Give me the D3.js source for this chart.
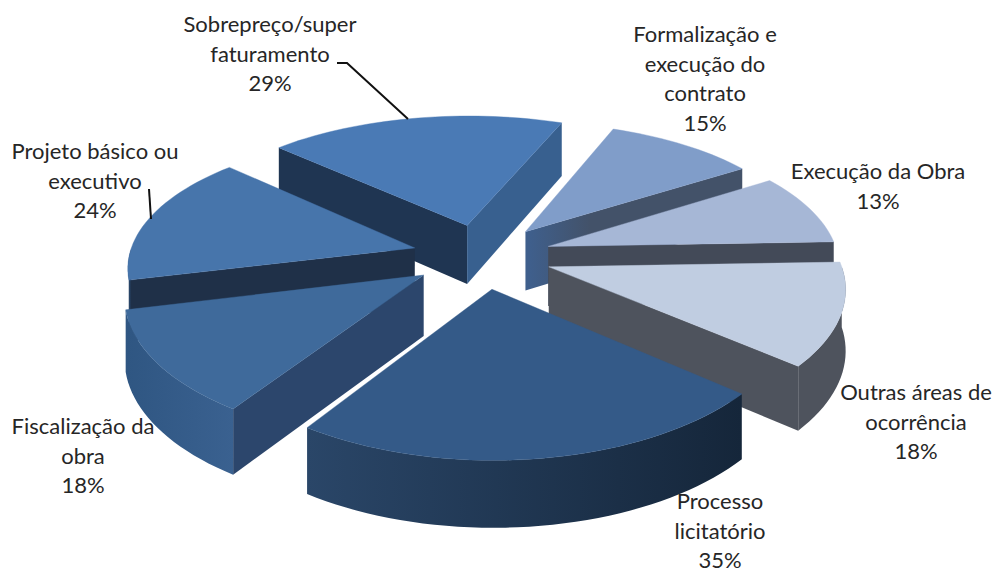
<!DOCTYPE html>
<html lang="pt">
<head>
<meta charset="utf-8">
<style>html,body{margin:0;padding:0;background:#fff}svg{display:block}</style>
<script src="https://cdn.jsdelivr.net/npm/d3@7/dist/d3.min.js"></script>
</head>
<body>
<svg id="c" width="993" height="572"></svg>
<script>
const categories = ["Sobrepreço/super faturamento","Formalização e execução do contrato","Execução da Obra","Outras áreas de ocorrência","Processo licitatório","Fiscalização da obra","Projeto básico ou executivo"];
const values = [29,15,13,18,35,18,24];
const percentLabels = ["29%","15%","13%","18%","35%","18%","24%"];
const labelLines = [["Sobrepreço/super","faturamento","29%"],["Formalização e","execução do","contrato","15%"],["Execução da Obra","13%"],["Outras áreas de","ocorrência","18%"],["Processo","licitatório","35%"],["Fiscalização da","obra","18%"],["Projeto básico ou","executivo","24%"]];
const labelX = [270,705,878,916,720,83,95];
const labelFirstBaseline = [32,42,179,400,509,434,159];
const topColors = ["#4a7ab5","#809dc9","#a6b7d6","#c0cde1","#345a88","#3f6a9b","#4775ab"];
const wallColors = ["#1f3552","#435269","#434a58","#4e535d","#15263a","#2c466c","#1f3048"];
const endWallLeft = ["#38608f","#3f5f8c","#434a58","#4e535d","#15263a","#2c466c","#1f3048"];
const endWallRight = ["#38608f","#435269","#434a58","#4e535d","#15263a","#2c466c","#1f3048"];
const outerLeft = ["#38608f","#3f5f8c","#434a58","#4e535d","#2a4668","#2f5682","#2f5682"];
const outerRight = ["#38608f","#435269","#434a58","#4e535d","#15263a","#3a6190","#1f3048"];
const radiusFactor = [1,0.985,1,1,1,1,0.985];

const W=993,H=572, cx=482, cy=256, R=290, explode=70, sq=0.463, px=0.13, py=0.15, depth=60;
const rad=d=>d*Math.PI/180;
const svg=d3.select("#c");
const defs=svg.append("defs");
const arcs=d3.pie().sort(null).startAngle(rad(-47)).endAngle(rad(313))(values);

function proj(a,r,mid,z){
  const X=r*Math.sin(a)+explode*Math.sin(mid);
  const V=-r*Math.cos(a)-explode*Math.cos(mid);
  const v=V/R;
  const sx=1/(1-px*v), sy=1/(1-py*v), sz=1+0.1*v;
  return [cx+X*sx, cy+V*sq*sy+z*sz];
}
const line=d3.line();
function sampled(a0,a1){const n=Math.max(2,Math.ceil((a1-a0)/rad(2)));return d3.range(n+1).map(i=>a0+(a1-a0)*i/n);}
function gradient(id,c0,c1,stop0){
  const grad=defs.append("linearGradient").attr("id",id).attr("x1","0").attr("x2","1").attr("y1","0").attr("y2","0");
  grad.append("stop").attr("offset",stop0).attr("stop-color",c0);
  grad.append("stop").attr("offset",stop0===0?1:0.3).attr("stop-color",c1);
}

const order=arcs.map((d,i)=>({d,i,mid:(d.startAngle+d.endAngle)/2}))
  .sort((a,b)=>(-Math.cos(a.mid))-(-Math.cos(b.mid)));

order.forEach(({d,i,mid})=>{
  const g=svg.append("g").attr("class","slice");
  const Ri=R*radiusFactor[i];
  gradient("outer"+i,outerLeft[i],outerRight[i],0);
  gradient("end"+i,endWallLeft[i],endWallRight[i],0.02);
  // radial walls: only those turned toward the viewer
  [[d.startAngle,wallColors[i],+1],[d.endAngle,"url(#end"+i+")",-1]].forEach(([a,col,sgn])=>{
    const poly=[proj(a,0,mid,0),proj(a,Ri,mid,0),proj(a,Ri,mid,depth),proj(a,0,mid,depth)];
    if(sgn*d3.polygonArea(poly)>0) g.append("path").attr("d",line(poly)+"Z").attr("fill",col);
  });
  // outer wall: front half of the rim only
  const pts=sampled(d.startAngle,d.endAngle).filter(a=>Math.cos(a)<0.02);
  if(pts.length>1){
    const poly=pts.map(a=>proj(a,Ri,mid,0)).concat(pts.slice().reverse().map(a=>proj(a,Ri,mid,depth)));
    g.append("path").attr("d",line(poly)+"Z").attr("fill","url(#outer"+i+")");
  }
  // top
  const rim=sampled(d.startAngle,d.endAngle).map(a=>proj(a,Ri,mid,0));
  g.append("path").attr("d",line([proj(0,0,mid,0),...rim])+"Z").attr("fill",topColors[i]).attr("stroke",topColors[i]).attr("stroke-width",0.4);
});

// leader lines
const leaderSource=[[[337,63],[347,63],[408,119]],[[149,189],[151,219]]];
leaderSource.forEach(p=>svg.append("path").attr("d",line(p)).attr("fill","none").attr("stroke","#111").attr("stroke-width",2));

// labels
const lineStep=29.5;
labelLines.forEach((lines,i)=>{
  const t=svg.append("text").attr("text-anchor","middle").attr("font-family","Lato, 'Open Sans', sans-serif").attr("font-size",22).attr("fill","#262626");
  lines.forEach((s,k)=>t.append("tspan").attr("x",labelX[i]).attr("y",labelFirstBaseline[i]+k*lineStep).text(s));
});
</script>
</body>
</html>
